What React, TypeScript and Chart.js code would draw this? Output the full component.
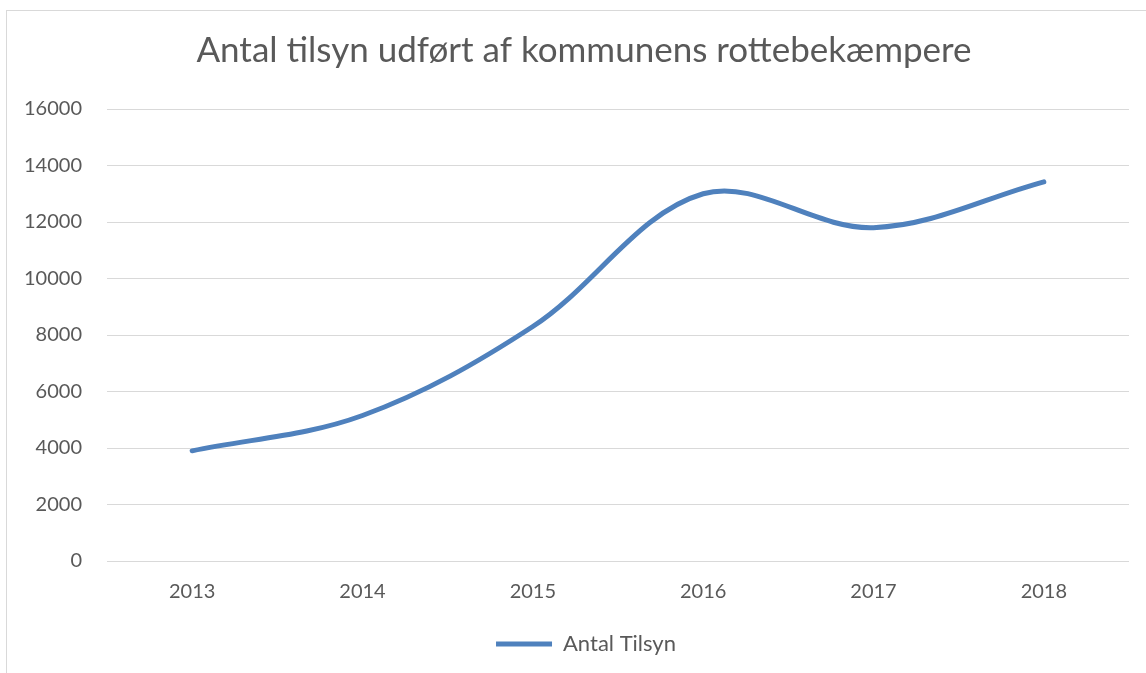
import React, { useEffect, useRef } from "react";
import { Chart, registerables } from "chart.js";

Chart.register(...registerables);

const years = ["2013", "2014", "2015", "2016", "2017", "2018"];
const antalTilsyn = [3900, 5150, 8300, 13000, 11800, 13420];
const yTicks = [0, 2000, 4000, 6000, 8000, 10000, 12000, 14000, 16000];

const titleText = "Antal tilsyn udført af kommunens rottebekæmpere";
const seriesLabel = "Antal Tilsyn";

const FONT = "Lato, 'Open Sans', sans-serif";
const TEXT = "#595959";
const GRID = "#d9d9d9";
const BLUE = "#4f81bd";

// shifts the title and legend boxes horizontally (the reference frame is wider than the view)
const shiftBoxes = {
  id: "shiftBoxes",
  afterLayout(chart: any) {
    const t = chart.titleBlock;
    if (t) {
      t.left += 16;
      t.right += 16;
    }
    const l = chart.legend;
    if (l) {
      l.left += 18;
      l.right += 18;
    }
  },
};

export default function App() {
  const ref = useRef<HTMLCanvasElement | null>(null);

  useEffect(() => {
    if (!ref.current) return;
    const chart = new Chart(ref.current, {
      type: "line",
      data: {
        labels: years,
        datasets: [
          {
            label: seriesLabel,
            data: antalTilsyn,
            borderColor: BLUE,
            backgroundColor: BLUE,
            borderWidth: 5,
            borderCapStyle: "round",
            tension: 0.35,
            pointRadius: 0,
            pointHoverRadius: 0,
            fill: false,
          },
        ],
      },
      plugins: [shiftBoxes],
      options: {
        responsive: false,
        animation: false,
        layout: { padding: { left: 0, right: 17, top: 0, bottom: 8 } },
        plugins: {
          title: {
            display: true,
            text: titleText,
            color: TEXT,
            font: { family: FONT, size: 35, weight: "normal" },
            padding: { top: 19, bottom: 37 },
          },
          legend: {
            position: "bottom",
            labels: {
              color: TEXT,
              font: { family: FONT, size: 22 },
              usePointStyle: true,
              pointStyle: "line",
              pointStyleWidth: 56,
              padding: 10,
            },
          },
          tooltip: { enabled: false },
        },
        scales: {
          x: {
            offset: true,
            grid: { display: false, drawTicks: false },
            border: { display: false },
            ticks: {
              color: TEXT,
              font: { family: FONT, size: 20 },
              padding: 19,
              maxRotation: 0,
            },
          },
          y: {
            min: 0,
            max: 16000,
            afterFit: (s: any) => {
              s.width = 100;
            },
            afterBuildTicks: (s: any) => {
              s.ticks = yTicks.map((v) => ({ value: v }));
            },
            grid: { color: GRID, lineWidth: 1, drawTicks: false },
            border: { display: false },
            ticks: {
              color: TEXT,
              font: { family: FONT, size: 20 },
              padding: 25,
              callback: (v: any) => String(v),
            },
          },
        },
      },
    });
    return () => chart.destroy();
  }, []);

  return (
    <div
      style={{
        position: "fixed",
        left: 6,
        top: 10,
        width: 1160,
        height: 700,
        borderLeft: `1px solid ${GRID}`,
        borderTop: `1px solid ${GRID}`,
        background: "#fff",
      }}
    >
      <canvas ref={ref} width={1139} height={662} style={{ display: "block" }} />
    </div>
  );
}
